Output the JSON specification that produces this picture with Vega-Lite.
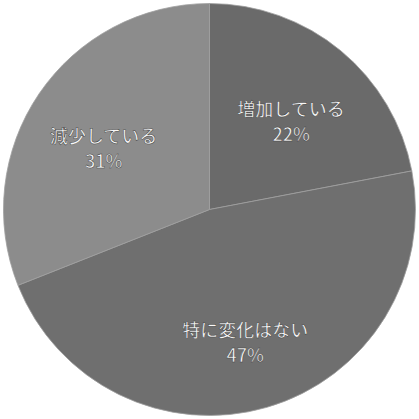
{
  "$schema": "https://vega.github.io/schema/vega-lite/v6.json",
  "width": 419,
  "height": 419,
  "autosize": {"type": "fit", "contains": "padding"},
  "padding": 0,
  "background": "white",
  "data": {
    "values": [
      {"category": "増加している", "value": 22, "order": 1, "label": "増加している\n22%"},
      {"category": "特に変化はない", "value": 47, "order": 2, "label": "特に変化はない\n47%"},
      {"category": "減少している", "value": 31, "order": 3, "label": "減少している\n31%"}
    ]
  },
  "encoding": {
    "theta": {"field": "value", "type": "quantitative", "stack": true},
    "order": {"field": "order", "type": "quantitative"}
  },
  "layer": [
    {
      "mark": {"type": "arc", "outerRadius": 206, "stroke": "#a0a0a0", "strokeWidth": 0.8},
      "encoding": {
        "color": {
          "field": "category",
          "type": "nominal",
          "scale": {
            "domain": ["増加している", "特に変化はない", "減少している"],
            "range": ["#6a6a6a", "#6f6f6f", "#8c8c8c"]
          },
          "legend": null
        }
      }
    },
    {
      "mark": {
        "type": "text",
        "radius": 128,
        "font": "Noto Sans CJK JP",
        "fontSize": 18,
        "fontWeight": 500,
        "lineBreak": "\n",
        "lineHeight": 25,
        "fill": "#f8f8f8",
        "stroke": "#404040",
        "strokeWidth": 0.5,
        "align": "center",
        "baseline": "middle"
      },
      "encoding": {
        "text": {"field": "label", "type": "nominal"}
      }
    }
  ]
}
